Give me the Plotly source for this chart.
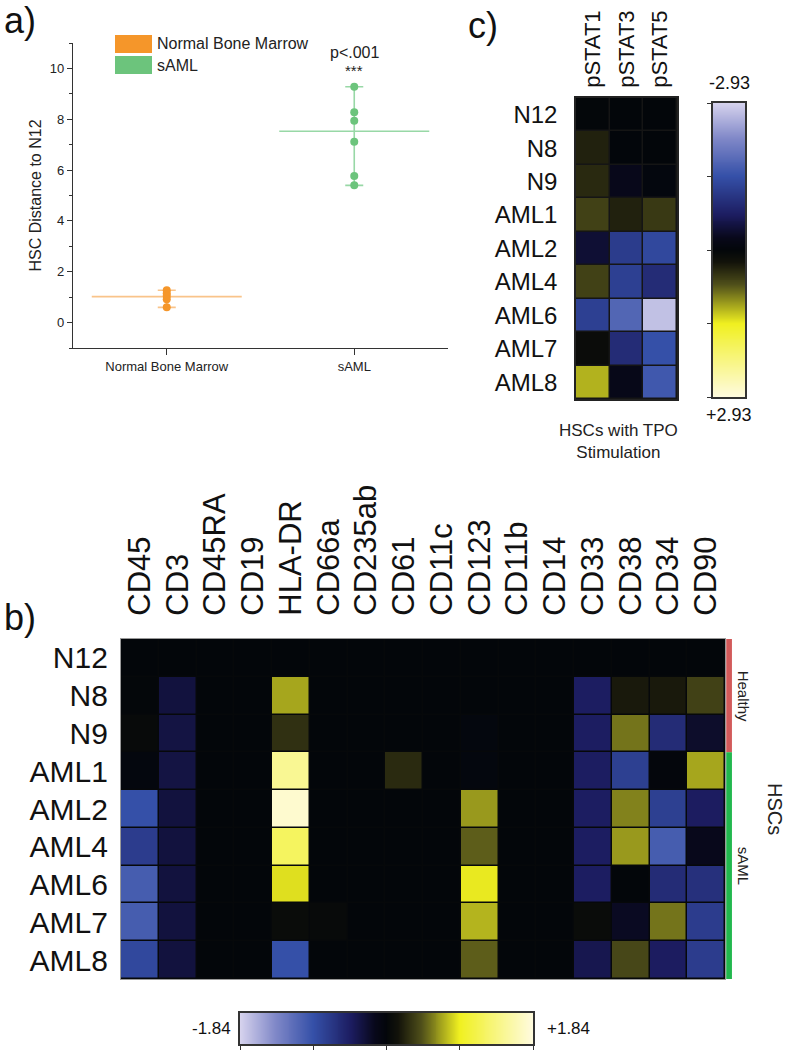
import numpy as np
import plotly.graph_objects as go

W, H = 786, 1050
FONT = "Liberation Sans, Arial, sans-serif"

# ---------------- data: panel a ----------------
groups_a = ["Normal Bone Marrow", "sAML"]
nbm_dist = [1.27, 1.15, 1.05, 0.92, 0.60]
saml_dist = [9.28, 8.28, 7.94, 7.11, 5.77, 5.40]
group_means = [1.02, 7.53]
p_text = "p<.001"
stars = "***"
colors_a = ["#f5962a", "#6cc47c"]
line_colors_a = ["#f9c48a", "#98d8a6"]

# ---------------- data: panel b ----------------
markers_b = ["CD45", "CD3", "CD45RA", "CD19", "HLA-DR", "CD66a", "CD235ab", "CD61",
             "CD11c", "CD123", "CD11b", "CD14", "CD33", "CD38", "CD34", "CD90"]
samples = ["N12", "N8", "N9", "AML1", "AML2", "AML4", "AML6", "AML7", "AML8"]
z_b = [
    [0.00, 0.00, 0, 0, 0.00, 0.00, 0, 0.00, 0, 0.00, 0, 0, 0.00, 0.00, 0.00, 0.00],
    [0.01, -0.30, 0, 0, 0.70, 0.00, 0, 0.00, 0, 0.00, 0, 0, -0.45, 0.18, 0.18, 0.37],
    [0.05, -0.32, 0, 0, 0.29, 0.00, 0, 0.00, 0, -0.04, 0, 0, -0.45, 0.55, -0.59, -0.22],
    [-0.04, -0.32, 0, 0, 1.47, 0.00, 0, 0.26, 0, -0.04, 0, 0, -0.45, -0.77, -0.02, 0.70],
    [-0.92, -0.30, 0, 0, 1.76, 0.00, 0, 0.00, 0, 0.66, 0, 0, -0.45, 0.59, -0.77, -0.44],
    [-0.74, -0.30, 0, 0, 1.22, 0.00, 0, 0.00, 0, 0.48, 0, 0, -0.45, 0.66, -1.03, -0.15],
    [-1.03, -0.30, 0, 0, 0.87, 0.00, 0, 0.00, 0, 0.90, 0, 0, -0.45, 0.00, -0.59, -0.63],
    [-1.03, -0.30, 0, 0, 0.07, 0.05, 0, 0.00, 0, 0.74, 0, 0, 0.07, -0.18, 0.55, -0.74],
    [-0.85, -0.30, 0, 0, -0.92, 0.00, 0, 0.00, 0, 0.48, 0, 0, -0.37, 0.40, -0.44, -0.74],
]
zlim_b = 1.84
row_groups = ["Healthy", "sAML"]
row_group_sizes = [3, 6]
row_group_colors = ["#d25a5a", "#22b84e"]
side_title = "HSCs"

# ---------------- data: panel c ----------------
stats_c = ["pSTAT1", "pSTAT3", "pSTAT5"]
z_c = [
    [0.02, 0.00, 0.00],
    [0.35, -0.02, 0.00],
    [0.41, -0.23, -0.06],
    [0.59, 0.35, 0.53],
    [-0.41, -1.17, -1.35],
    [0.59, -1.23, -0.94],
    [-1.23, -1.76, -2.75],
    [0.12, -0.94, -1.47],
    [1.17, -0.20, -1.58],
]
zlim_c = 2.93
c_caption = "HSCs with TPO<br>Stimulation"

# ---------------- colours ----------------
cscale = [[0.0, "#d8d4ee"], [0.12, "#8088c8"], [0.25, "#3550a8"], [0.38, "#1c1c60"],
          [0.46, "#08081a"], [0.5, "#03060a"], [0.54, "#12120a"], [0.62, "#50501a"],
          [0.75, "#f0f020"], [1.0, "#fffbe0"]]


def px_x(p):
    return p / W


def px_y(p):
    return 1 - p / H


fig = go.Figure()

# ---------------- panel a traces ----------------
data_a = [nbm_dist, saml_dist]
for i, (g, vals) in enumerate(zip(groups_a, data_a)):
    m = group_means[i]
    fig.add_trace(go.Scatter(
        x=[i - 0.4, i + 0.4], y=[m, m], mode="lines",
        line=dict(color=line_colors_a[i], width=1.6), showlegend=False, hoverinfo="skip",
        xaxis="x", yaxis="y"))
    fig.add_trace(go.Scatter(
        x=[i], y=[m], mode="markers", marker=dict(size=1, color="rgba(0,0,0,0)"),
        error_y=dict(type="data", symmetric=False, array=[max(vals) - m],
                     arrayminus=[m - min(vals)], color=line_colors_a[i], thickness=1.6, width=9),
        showlegend=False, hoverinfo="skip", xaxis="x", yaxis="y"))
    fig.add_trace(go.Scatter(
        x=[i] * len(vals), y=vals, mode="markers",
        marker=dict(size=8, color=colors_a[i]), name=g, showlegend=False,
        xaxis="x", yaxis="y"))

# ---------------- panel c heatmap ----------------
fig.add_trace(go.Heatmap(
    z=z_c, x=stats_c, y=samples, colorscale=cscale, zmin=-zlim_c, zmax=zlim_c,
    showscale=False, xgap=1.5, ygap=1.5, xaxis="x2", yaxis="y2"))

# colorbar c (gradient strip, -2.93 at top)
cb_c = np.linspace(-zlim_c, zlim_c, 300)
fig.add_trace(go.Heatmap(
    z=cb_c.reshape(-1, 1), x=[0], y=cb_c, colorscale=cscale, zmin=-zlim_c, zmax=zlim_c,
    showscale=False, hoverinfo="skip", xaxis="x3", yaxis="y3"))

# ---------------- panel b heatmap ----------------
fig.add_trace(go.Heatmap(
    z=z_b, x=markers_b, y=samples, colorscale=cscale, zmin=-zlim_b, zmax=zlim_b,
    showscale=False, xgap=1.5, ygap=1.5, xaxis="x4", yaxis="y4"))

cb_b = np.linspace(-zlim_b, zlim_b, 300)
fig.add_trace(go.Heatmap(
    z=cb_b.reshape(1, -1), x=cb_b, y=[0], colorscale=cscale, zmin=-zlim_b, zmax=zlim_b,
    showscale=False, hoverinfo="skip", xaxis="x5", yaxis="y5"))

fig.update_layout(
    width=W, height=H, margin=dict(l=0, r=0, t=0, b=0),
    paper_bgcolor="white", plot_bgcolor="white", showlegend=False,
    font=dict(family=FONT, color="#111"),
    # panel a
    xaxis=dict(domain=[px_x(73), px_x(448)], range=[-0.5, 1.5], tickvals=[0, 1],
               ticktext=groups_a, showline=True, linecolor="#333", linewidth=1.3,
               ticks="outside", ticklen=6, tickcolor="#333", showgrid=False, zeroline=False,
               tickfont=dict(size=13, family=FONT, color="#222"), anchor="y"),
    yaxis=dict(domain=[px_y(348), px_y(43)], range=[-1, 11], tick0=0, dtick=2,
               showline=True, linecolor="#333", linewidth=1.3, ticks="outside", ticklen=5,
               tickcolor="#333", showgrid=False, zeroline=False,
               minor=dict(ticks="outside", ticklen=3, dtick=1, tickcolor="#333"),
               tickfont=dict(size=13, family=FONT, color="#222"),
               title=dict(text="HSC Distance to N12", font=dict(size=16, family=FONT, color="#222"),
                          standoff=4), anchor="x"),
    # panel c heatmap
    xaxis2=dict(domain=[px_x(576), px_x(677)], side="top", tickangle=-90, anchor="y2",
                ticks="outside", ticklen=4, tickcolor="rgba(0,0,0,0)", showgrid=False,
                showline=True, mirror=True, linecolor="#222", linewidth=1.5, zeroline=False,
                tickfont=dict(size=22, family=FONT, color="#111")),
    yaxis2=dict(domain=[px_y(399), px_y(98)], autorange="reversed", anchor="x2",
                ticks="outside", ticklen=12, tickcolor="rgba(0,0,0,0)", showgrid=False,
                showline=True, mirror=True, linecolor="#222", linewidth=1.5, zeroline=False,
                tickfont=dict(size=24, family=FONT, color="#111")),
    # colorbar c
    xaxis3=dict(domain=[px_x(713), px_x(745)], anchor="y3", showticklabels=False,
                ticks="", showgrid=False, zeroline=False, showline=True, mirror=True,
                linecolor="#333", linewidth=1.5, range=[-0.5, 0.5]),
    yaxis3=dict(domain=[px_y(397), px_y(103)], anchor="x3", range=[zlim_c, -zlim_c],
                tickvals=list(np.linspace(-zlim_c, zlim_c, 5)), showticklabels=False,
                ticks="outside", ticklen=4, tickcolor="#333", showgrid=False, zeroline=False,
                showline=True, mirror=True, linecolor="#333", linewidth=1.5),
    # panel b heatmap
    xaxis4=dict(domain=[px_x(121), px_x(725)], side="top", tickangle=-90, anchor="y4",
                ticks="outside", ticklen=16, tickcolor="rgba(0,0,0,0)", showgrid=False,
                showline=True, mirror=True, linecolor="#999", linewidth=1.2, zeroline=False,
                tickfont=dict(size=31, family=FONT, color="#111")),
    yaxis4=dict(domain=[px_y(979), px_y(639)], autorange="reversed", anchor="x4",
                ticks="outside", ticklen=6, tickcolor="rgba(0,0,0,0)", showgrid=False,
                showline=True, mirror=True, linecolor="#999", linewidth=1.2, zeroline=False,
                tickfont=dict(size=30, family=FONT, color="#111")),
    # colorbar b
    xaxis5=dict(domain=[px_x(240), px_x(533)], anchor="y5", range=[-zlim_b, zlim_b],
                tickvals=list(np.linspace(-zlim_b, zlim_b, 5)), showticklabels=False,
                ticks="outside", ticklen=4, tickcolor="#333", showgrid=False, zeroline=False,
                showline=True, mirror=True, linecolor="#333", linewidth=1.5),
    yaxis5=dict(domain=[px_y(1044), px_y(1013)], anchor="x5", range=[-0.5, 0.5],
                showticklabels=False, ticks="", showgrid=False, zeroline=False,
                showline=True, mirror=True, linecolor="#333", linewidth=1.5),
)

shapes = []
# dark backgrounds behind the heatmaps (visible in the cell gaps)
for xa, ya, col in [("x2", "y2", "#151515"), ("x4", "y4", "#06080a")]:
    shapes.append(dict(type="rect", xref=f"{xa} domain", yref=f"{ya} domain",
                       x0=0, x1=1, y0=0, y1=1, fillcolor=col, line=dict(width=0),
                       layer="below"))

# custom legend for panel a
leg_rows = [(35, 53), (56, 74)]
annotations = []
for i, g in enumerate(groups_a):
    t, b = leg_rows[i]
    shapes.append(dict(type="rect", xref="paper", yref="paper",
                       x0=px_x(115), x1=px_x(152), y0=px_y(b), y1=px_y(t),
                       fillcolor=colors_a[i], line=dict(width=0)))
    annotations.append(dict(text=g, xref="paper", yref="paper", x=px_x(155),
                            y=px_y((t + b) / 2), xanchor="left", yanchor="middle",
                            showarrow=False, font=dict(size=16, family=FONT, color="#222")))

# significance text
annotations.append(dict(text=stars, xref="x", yref="y", x=1, y=max(saml_dist),
                        yanchor="bottom", yshift=6, showarrow=False,
                        font=dict(size=15, family=FONT, color="#222")))
annotations.append(dict(text=p_text, xref="x", yref="y", x=1, y=max(saml_dist),
                        yanchor="bottom", yshift=24, showarrow=False,
                        font=dict(size=16, family=FONT, color="#222")))

# panel letters
for txt, x, y in [("a)", 2, 20), ("b)", 2, 617), ("c)", 466, 25)]:
    annotations.append(dict(text=txt, xref="paper", yref="paper", x=px_x(x), y=px_y(y),
                            xanchor="left", yanchor="middle", showarrow=False,
                            font=dict(size=36, family=FONT, color="#111")))

# group bars & labels on panel b
start = 0
for g, n, col in zip(row_groups, row_group_sizes, row_group_colors):
    shapes.append(dict(type="rect", xref="x4 domain", yref="y4",
                       x0=1.002, x1=1.0115, y0=start - 0.5, y1=start + n - 0.5,
                       fillcolor=col, line=dict(width=0)))
    annotations.append(dict(text=g, xref="x4 domain", yref="y4", x=1, y=start + (n - 1) / 2,
                            xshift=18, xanchor="center", yanchor="middle", textangle=90,
                            showarrow=False, font=dict(size=15, family=FONT, color="#222")))
    start += n
annotations.append(dict(text=side_title, xref="x4 domain", yref="y4 domain", x=1, y=0.5,
                        xshift=50, xanchor="center", yanchor="middle", textangle=90,
                        showarrow=False, font=dict(size=20, family=FONT, color="#222")))

# colorbar labels
annotations.append(dict(text=f"-{zlim_c:.2f}", xref="x3 domain", yref="y3 domain", x=0.5, y=1,
                        yanchor="bottom", yshift=8, showarrow=False,
                        font=dict(size=18, family=FONT, color="#111")))
annotations.append(dict(text=f"+{zlim_c:.2f}", xref="x3 domain", yref="y3 domain", x=0.5, y=0,
                        yanchor="top", yshift=-6, showarrow=False,
                        font=dict(size=18, family=FONT, color="#111")))
annotations.append(dict(text=f"-{zlim_b:.2f}", xref="x5 domain", yref="y5 domain", x=0, y=0.5,
                        xanchor="right", xshift=-7, showarrow=False,
                        font=dict(size=17, family=FONT, color="#111")))
annotations.append(dict(text=f"+{zlim_b:.2f}", xref="x5 domain", yref="y5 domain", x=1, y=0.5,
                        xanchor="left", xshift=12, showarrow=False,
                        font=dict(size=17, family=FONT, color="#111")))

# caption for panel c
annotations.append(dict(text=c_caption, xref="x2 domain", yref="y2 domain", x=0.5, y=0,
                        xshift=-8, yanchor="top", yshift=-20, showarrow=False,
                        font=dict(size=17, family=FONT, color="#222")))

fig.update_layout(shapes=shapes, annotations=annotations)
fig.write_html("out.html", config={"displayModeBar": False},
               post_script="document.body.style.margin='0';")
